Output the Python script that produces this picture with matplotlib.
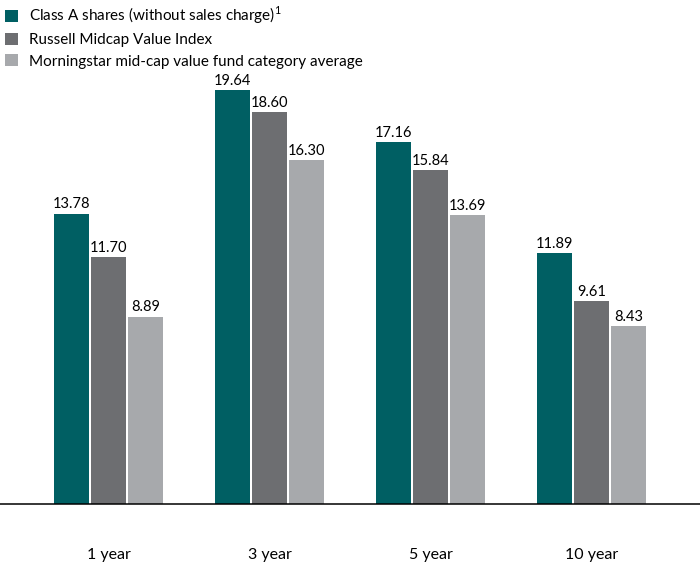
import matplotlib.pyplot as plt
import numpy as np

plt.rcParams['font.family'] = ['Lato', 'DejaVu Sans']

# data
periods = ['1 year', '3 year', '5 year', '10 year']
class_a = [13.78, 19.64, 17.16, 11.89]
russell = [11.70, 18.60, 15.84, 9.61]
morningstar = [8.89, 16.30, 13.69, 8.43]
series_names = ['Class A shares (without sales charge)$^{\\mathregular{1}}$',
                'Russell Midcap Value Index',
                'Morningstar mid-cap value fund category average']
colors = ['#005f63', '#6d6e71', '#a7a9ac']

fig = plt.figure(figsize=(7, 5.7), dpi=100)
ax = fig.add_axes([0, 66 / 570, 1, 504 / 570])

x = np.arange(len(periods))
w = 35 / 161
step = 37 / 161
handles = []
for i, (vals, col) in enumerate(zip([class_a, russell, morningstar], colors)):
    b = ax.bar(x + (i - 1) * step, vals, width=w, color=col)
    handles.append(b)
    # value labels on top of bars
    for xi, v in zip(x + (i - 1) * step, vals):
        ax.text(xi, v + 0.1, f'{v:.2f}', ha='center', va='bottom', fontsize=10.5)

ax.set_xlim(-108.5 / 161, (700 - 108.5) / 161)
ax.set_ylim(0, 504 / 21.08)
ax.set_xticks(x)
ax.set_xticklabels(periods, fontsize=11.5)
ax.tick_params(axis='x', length=0, pad=32)
ax.set_yticks([])
for s in ['top', 'left', 'right']:
    ax.spines[s].set_visible(False)
ax.spines['bottom'].set_linewidth(1.1)

fig.legend(handles, series_names, loc='upper left', bbox_to_anchor=(0.0, 1.0),
           frameon=False, fontsize=11, handlelength=0.85, handleheight=0.85,
           handletextpad=0.75, labelspacing=0.45, borderaxespad=0, borderpad=0.3)

fig.savefig('out.png', dpi=100)
